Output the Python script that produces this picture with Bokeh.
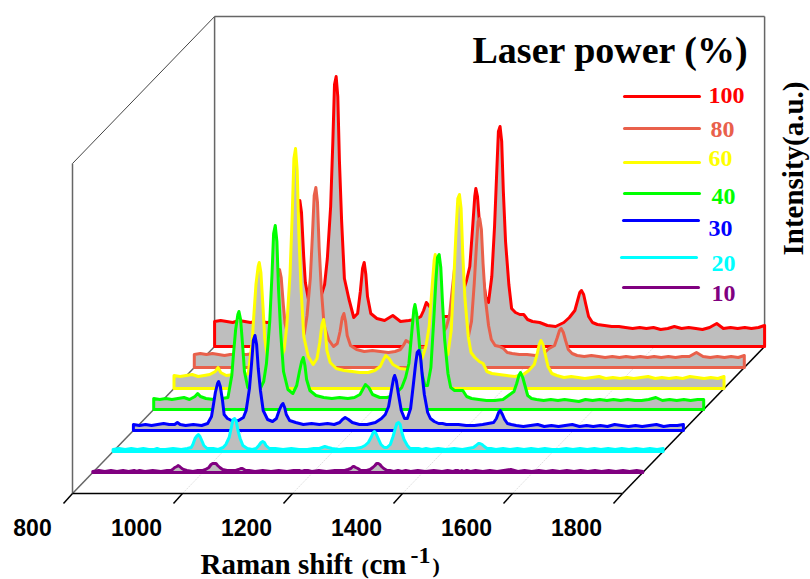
from bokeh.plotting import figure
from bokeh.embed import file_html
from bokeh.resources import INLINE
from bokeh.core.properties import value
import math

# ---------- data: Raman shift grid (cm-1) and intensity (a.u.) per laser power ----------
raman_shift = [
 800,811,822,833,844,855,865,
 875,880,885,
 895,909,924,935,
 942,945,949,953,955,958,962,965,971,
 982,991,
 1000,1005,1011,1015,1018,1021,1024,1027,1031,1036,1044,
 1053,1060,1065,1069,1072,1075,1078,1084,
 1095,1109,1124,1138,1153,1165,
 1175,1180,1185,1191,1198,
 1211,1225,1240,
 1251,1258,1264,1269,1273,1275,1278,1282,1287,1293,
 1298,1304,1309,1313,1316,1319,1322,1325,1329,1335,1340,
 1347,1355,1362,1369,1378,1391,1405,1420,1435,1445,
 1455,1460,1464,1467,1471,1475,1480,1487,
 1496,1509,1522,1535,1547,1560,1573,1585,1598,1611,1624,1636,1649,1662,1675,1687,1700,1713,1725,1738,1751,1764,1776,1789,1800,
]
power_100 = [
 25,26,25,24,26,25,24,
 25,27,25,
 24,25,26,28,
 60,85,118,140,146,134,90,64,46,
 40,46,
 62,88,140,205,262,270,250,185,125,68,48,
 29,33,55,78,84,72,50,33,
 28,26,31,25,26,27,
 30,36,44,40,34,
 30,30,35,
 54,66,80,118,150,158,150,120,72,50,
 44,70,120,175,215,220,205,155,105,62,38,
 34,32,32,27,25,24,21,20,24,29,
 36,46,54,56,52,42,30,24,
 22,21,20,20,19,18,19,18,19,17,18,20,18,19,18,17,19,23,18,19,18,19,18,19,21,
]
power_80 = [
 13,14,13,14,13,12,13,
 13,14,13,
 13,14,13,15,
 40,58,80,96,98,90,62,44,30,
 25,24,
 34,52,90,135,172,180,165,120,78,42,28,
 21,24,36,50,54,46,32,22,
 18,16,17,16,15,16,
 18,22,27,25,21,
 20,20,26,
 34,40,52,78,98,104,98,78,46,32,
 30,46,84,122,146,149,138,104,70,42,28,
 22,21,19,15,14,13,13,12,14,19,
 22,30,37,39,35,27,18,14,
 12,11,12,11,10,11,10,11,10,11,10,11,10,11,10,11,11,15,11,10,11,10,11,10,12,
]
power_60 = [
 13,12,13,14,12,13,14,
 17,21,16,
 13,14,13,15,
 46,72,104,122,126,116,80,50,26,
 22,26,
 38,62,115,175,230,240,218,155,100,52,32,
 24,30,46,64,69,58,38,26,
 20,18,17,16,16,18,
 22,28,33,30,24,
 20,19,26,
 30,42,62,100,128,134,124,96,52,34,
 34,58,112,160,190,194,180,135,90,52,36,
 31,27,25,17,15,14,13,12,14,18,
 24,34,44,48,44,34,22,15,
 13,11,12,11,10,11,12,10,11,10,11,10,11,12,10,11,10,11,10,12,11,10,11,10,12,
]
power_40 = [
 11,10,11,10,11,12,10,
 13,16,13,
 11,10,11,12,
 34,55,80,95,98,90,62,38,22,
 16,18,
 28,46,88,134,176,184,168,120,76,38,20,
 16,24,38,48,52,44,30,19,
 14,12,11,12,11,12,
 15,20,25,22,15,
 12,12,16,
 22,32,46,76,100,105,96,72,38,24,
 24,42,88,128,152,155,142,108,70,36,22,
 19,19,19,13,11,10,9,9,10,14,
 18,26,34,37,32,24,14,11,
 10,9,10,9,10,9,8,10,9,10,9,10,9,10,9,9,10,12,9,10,9,10,9,10,10,
]
power_30 = [
 6,5,6,5,6,7,6,
 6,8,6,
 5,6,5,7,
 14,24,38,47,49,44,30,16,12,
 9,10,
 13,20,42,68,90,95,86,62,40,20,11,
 9,12,20,25,27,23,16,10,
 8,6,7,6,7,6,
 8,11,13,11,8,
 6,6,8,
 12,16,24,40,52,55,50,36,20,12,
 12,22,46,66,78,80,74,56,36,18,12,
 9,7,7,6,6,6,5,5,6,7,
 8,12,18,20,16,11,7,6,
 5,4,5,6,4,5,4,5,6,4,5,4,5,4,6,5,4,5,4,5,6,4,5,5,6,
]
power_20 = [
 2,3,2,3,2,3,2,
 2,3,2,
 2,3,2,3,
 4,7,13,16,17,15,10,6,3,
 3,2,
 4,7,14,24,32,33,30,21,13,6,3,
 2,3,6,9,10,9,6,3,
 3,2,3,2,2,3,
 3,4,5,4,3,
 2,3,3,
 4,6,9,14,19,20,18,13,7,4,
 4,7,15,23,28,29,27,19,12,6,3,
 3,3,2,3,2,3,2,3,2,3,
 4,6,8,8,7,5,3,3,
 2,3,2,3,2,3,2,3,2,2,3,2,3,2,3,2,3,2,3,2,3,2,3,2,3,
]
power_10 = [
 1,2,1,2,1,2,1,
 2,1,2,
 1,2,1,2,
 2,3,5,6,7,6,4,3,2,
 1,2,
 2,3,5,8,9,9,9,7,5,3,2,
 2,2,3,4,4,3,2,2,
 1,2,1,2,1,2,
 2,1,2,2,1,
 2,1,2,
 2,2,3,4,6,6,5,4,2,2,
 2,3,5,7,9,9,8,6,4,2,2,
 1,2,1,2,1,2,1,2,1,2,
 1,2,2,1,2,1,2,1,
 2,1,2,1,2,3,1,2,1,2,1,2,1,2,1,2,1,2,1,2,1,2,1,2,1,
]
powers = ["100", "80", "60", "40", "30", "20", "10"]
tick_values = [800, 1000, 1200, 1400, 1600, 1800]

# ---------- styles and layout ----------
series = [power_100, power_80, power_60, power_40, power_30, power_20, power_10]
for s in series:
    assert len(s) == len(raman_shift), len(s)
colors = ["#FF0000", "#E9604B", "#FFFF00", "#00FF00", "#0000FF", "#00FFFF", "#800080"]
depths = [7, 6, 5, 4, 3, 2, 1]
FILL = "#BEBEBE"
PX_PER_CM = 0.55
X0, Y0 = 72, 493          # picture position of front-left floor corner
DX, DY = 20.3, 21         # picture shift per depth step
TOP = 16
WALL_H = 330

def X(px):
    return 800 + (px - X0) / PX_PER_CM
def Y(py):
    return Y0 - py

W, H = 810, 579
p = figure(width=W, height=H, x_range=(X(0), X(W)), y_range=(Y(H), Y(0)),
           output_backend="svg", toolbar_location=None, min_border=0,
           x_axis_type=None, y_axis_type=None, outline_line_color=None)
p.grid.visible = False
p.background_fill_color = "white"
p.border_fill_color = "white"

dshift = DX / PX_PER_CM
wmin, wmax = tick_values[0], tick_values[-1]
back = 7 * DY

# faint floor grid
for t in tick_values[1:-1]:
    p.line([t, t + 7 * dshift], [0, back], line_color="#D8D8D8", line_width=0.8, line_dash="2 1")

# walls
GR = "#666666"
p.line([wmin, wmin], [0, WALL_H], line_color=GR, line_width=1.5)
p.line([wmin, wmin + 7 * dshift], [WALL_H, Y(TOP)], line_color="#444444", line_width=1)
p.line([wmin + 7 * dshift, wmin + 7 * dshift], [back, Y(TOP)], line_color=GR, line_width=1.5)
p.line([wmin + 7 * dshift, wmax + 7 * dshift], [Y(TOP), Y(TOP)], line_color=GR, line_width=1.5)
p.line([wmax + 7 * dshift, wmax + 7 * dshift], [back, Y(TOP)], line_color=GR, line_width=1.5)
p.line([wmin, wmin + 7 * dshift], [0, back], line_color=GR, line_width=1.5)
p.line([wmax, wmax + 7 * dshift], [0, back], line_color="black", line_width=1.5)
p.line([wmin, wmax], [0, 0], line_color="black", line_width=1.5)

# ticks
for t in tick_values:
    p.line([t, t - 9 / PX_PER_CM], [0, -10], line_color="black", line_width=1.5)

# waterfall traces
for vals, col, d in zip(series, colors, depths):
    xs = [w + d * dshift for w in raman_shift]
    base = d * DY
    ys = [base + v for v in vals]
    p.patch(xs + [xs[-1], xs[0]], ys + [base, base], fill_color=FILL, line_color=col,
            line_width=3, line_join="round")

# tick labels
for t, off in zip(tick_values, [-40, -46, -46, -46, -46, -46]):
    p.text([t + off / PX_PER_CM], [Y(527)], text=[str(t)], text_font=value("Liberation Sans"),
           text_font_style="bold", text_font_size="23px", text_align="center",
           text_baseline="middle", text_color="black")

SERIF = value("Liberation Serif")
def label(px, py, s, size, color="black", align="left", angle=0.0):
    p.text([X(px)], [Y(py)], text=[s], text_font=SERIF, text_font_style="bold",
           text_font_size=f"{size}px", text_color=color, text_align=align,
           text_baseline="middle", angle=angle)

# axis titles
label(200, 563, "Raman shift", 29)
label(361, 566, "(", 22)
label(369, 563, "cm", 29)
label(410, 555, "-1", 24)
label(432, 565, ")", 22)
label(792, 168, "Intensity(a.u.)", 29, align="center", angle=math.pi / 2)

# legend
label(472, 49, "Laser power (%)", 38)
leg_y = [96, 128, 162, 193, 220, 257, 287]
leg_x = [624, 624, 624, 624, 623, 621, 623]
txt_x = [708, 710, 708, 711, 708, 711, 711]
txt_y = [95, 129, 158, 196, 228, 263, 293]
for s, c, ly, lx, tx, ty in zip(powers, colors, leg_y, leg_x, txt_x, txt_y):
    p.line([X(lx), X(lx + 75)], [Y(ly), Y(ly)], line_color=c, line_width=3, line_cap="round")
    label(tx, ty, s, 24, color=c)

open("out.html", "w").write(file_html(p, INLINE))
